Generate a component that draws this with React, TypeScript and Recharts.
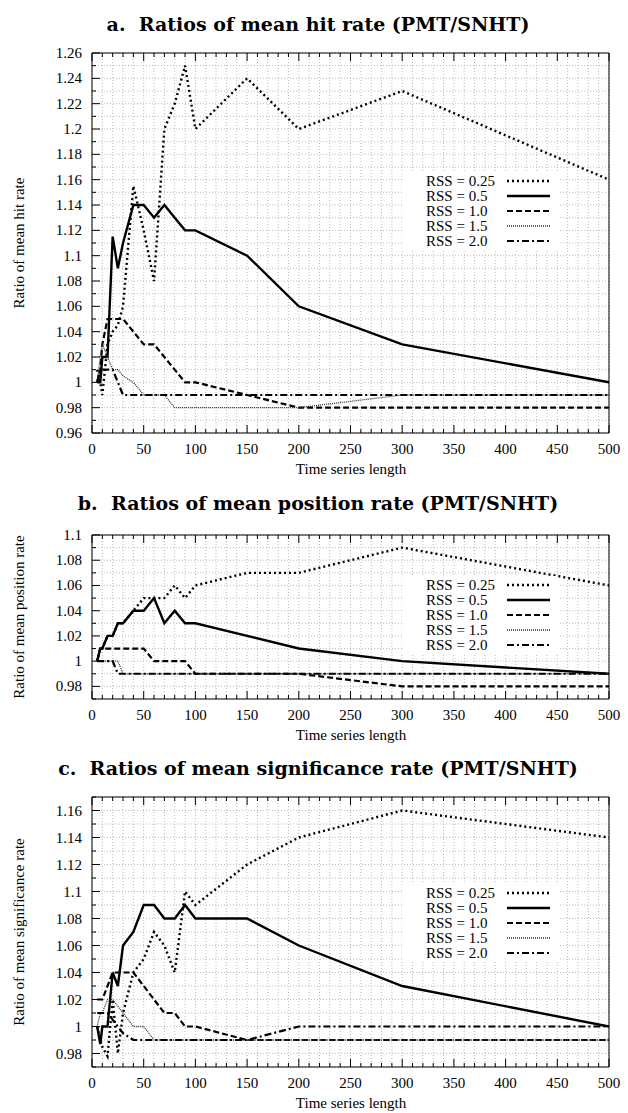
import React from 'react';
import { LineChart, Line, XAxis, YAxis, CartesianGrid } from 'recharts';

// time series lengths (shared by all panels)
const lengths = [5, 8, 10, 15, 20, 25, 30, 40, 50, 60, 70, 80, 90, 100, 150, 200, 300, 500];
const xLabels = [0, 50, 100, 150, 200, 250, 300, 350, 400, 450, 500];

// a. hit rate
const hit025 = [1.01, 1.0, 0.99, 1.03, 1.04, 1.045, 1.06, 1.155, 1.12, 1.08, 1.2, 1.22, 1.25, 1.2, 1.24, 1.2, 1.23, 1.16];
const hit05 = [1.0, 1.0, 1.02, 1.02, 1.115, 1.09, 1.11, 1.14, 1.14, 1.13, 1.14, 1.13, 1.12, 1.12, 1.1, 1.06, 1.03, 1.0];
const hit10 = [1.0, 1.01, 1.03, 1.05, 1.05, 1.05, 1.05, 1.04, 1.03, 1.03, 1.02, 1.01, 1.0, 1.0, 0.99, 0.98, 0.98, 0.98];
const hit15 = [1.0, 1.02, 1.03, 1.02, 1.01, 1.01, 1.005, 1.0, 0.99, 0.99, 0.99, 0.98, 0.98, 0.98, 0.98, 0.98, 0.99, 0.99];
const hit20 = [1.0, 1.01, 1.01, 1.01, 1.01, 1.0, 0.99, 0.99, 0.99, 0.99, 0.99, 0.99, 0.99, 0.99, 0.99, 0.99, 0.99, 0.99];
const hitTicks = [0.96, 0.98, 1, 1.02, 1.04, 1.06, 1.08, 1.1, 1.12, 1.14, 1.16, 1.18, 1.2, 1.22, 1.24, 1.26];

// b. position rate
const pos025 = [1.0, 1.01, 1.01, 1.02, 1.02, 1.03, 1.03, 1.04, 1.05, 1.05, 1.05, 1.06, 1.05, 1.06, 1.07, 1.07, 1.09, 1.06];
const pos05 = [1.0, 1.01, 1.01, 1.02, 1.02, 1.03, 1.03, 1.04, 1.04, 1.05, 1.03, 1.04, 1.03, 1.03, 1.02, 1.01, 1.0, 0.99];
const pos10 = [1.0, 1.01, 1.01, 1.01, 1.01, 1.01, 1.01, 1.01, 1.01, 1.0, 1.0, 1.0, 1.0, 0.99, 0.99, 0.99, 0.98, 0.98];
const pos15 = [1.0, 1.0, 1.0, 1.0, 1.0, 1.0, 0.99, 0.99, 0.99, 0.99, 0.99, 0.99, 0.99, 0.99, 0.99, 0.99, 0.99, 0.99];
const pos20 = [1.0, 1.0, 1.0, 1.0, 1.0, 0.99, 0.99, 0.99, 0.99, 0.99, 0.99, 0.99, 0.99, 0.99, 0.99, 0.99, 0.99, 0.99];
const posTicks = [0.98, 1, 1.02, 1.04, 1.06, 1.08, 1.1];

// c. significance rate
const sig025 = [1.0, 0.99, 0.985, 0.978, 1.02, 0.98, 1.01, 1.04, 1.05, 1.07, 1.06, 1.04, 1.1, 1.09, 1.12, 1.14, 1.16, 1.14];
const sig05 = [1.0, 0.987, 1.0, 1.0, 1.04, 1.03, 1.06, 1.07, 1.09, 1.09, 1.08, 1.08, 1.09, 1.08, 1.08, 1.06, 1.03, 1.0];
const sig10 = [1.02, 1.02, 1.02, 1.03, 1.04, 1.04, 1.04, 1.04, 1.03, 1.02, 1.01, 1.01, 1.0, 1.0, 0.99, 0.99, 0.99, 0.99];
const sig15 = [1.0, 1.01, 1.01, 1.02, 1.02, 1.015, 1.01, 1.0, 1.0, 0.99, 0.99, 0.99, 0.99, 0.99, 0.99, 0.99, 0.99, 0.99];
const sig20 = [1.01, 1.01, 1.01, 1.01, 1.005, 1.0, 0.995, 0.99, 0.99, 0.99, 0.99, 0.99, 0.99, 0.99, 0.99, 1.0, 1.0, 1.0];
const sigTicks = [0.98, 1, 1.02, 1.04, 1.06, 1.08, 1.1, 1.12, 1.14, 1.16];

const seriesStyle = [
  { key: 'r025', name: 'RSS = 0.25', dash: '2 3', width: 2.4, color: '#000' },
  { key: 'r05', name: 'RSS = 0.5', dash: undefined, width: 2.4, color: '#000' },
  { key: 'r10', name: 'RSS = 1.0', dash: '6 3', width: 2.2, color: '#000' },
  { key: 'r15', name: 'RSS = 1.5', dash: '1 1', width: 1.3, color: '#333' },
  { key: 'r20', name: 'RSS = 2.0', dash: '7 3 2 3', width: 2.2, color: '#000' },
];

const FONT = '"Liberation Serif", "Times New Roman", serif';
const xMinor = Array.from({ length: 51 }, (_, i) => i * 10);

const minorSteps = (lo: number, hi: number) =>
  Array.from({ length: Math.round((hi - lo) * 100) + 1 }, (_, i) => +(lo + i * 0.01).toFixed(2));

const fmt = (v: number) => String(+v.toFixed(2));

const BottomTick = (props: any) => {
  const { x, y, payload } = props;
  const major = payload.value % 50 === 0;
  return (
    <g>
      <line x1={x} y1={y} x2={x} y2={y - (major ? 8 : 4)} stroke="#000" />
      {major && (
        <text x={x} y={y + 21} textAnchor="middle" fontSize={15} fontFamily={FONT} fill="#000">
          {payload.value}
        </text>
      )}
    </g>
  );
};

const TopTick = (props: any) => {
  const { x, y, payload } = props;
  const major = payload.value % 50 === 0;
  return <line x1={x} y1={y} x2={x} y2={y + (major ? 8 : 4)} stroke="#000" />;
};

const makeLeftTick = (labels: number[]) => (props: any) => {
  const { x, y, payload } = props;
  const major = labels.some((l) => Math.abs(l - payload.value) < 1e-6);
  return (
    <g>
      <line x1={x} y1={y} x2={x + (major ? 8 : 4)} y2={y} stroke="#000" />
      {major && (
        <text x={x - 10} y={y + 5} textAnchor="end" fontSize={15} fontFamily={FONT} fill="#000">
          {fmt(payload.value)}
        </text>
      )}
    </g>
  );
};

const makeRightTick = (labels: number[]) => (props: any) => {
  const { x, y, payload } = props;
  const major = labels.some((l) => Math.abs(l - payload.value) < 1e-6);
  return <line x1={x} y1={y} x2={x - (major ? 8 : 4)} y2={y} stroke="#000" />;
};

type PanelProps = {
  title: string;
  titleY: number;
  yTitle: string;
  plotTop: number;
  plotBottom: number;
  domain: [number, number];
  labels: number[];
  values: number[][];
  legendTop: number;
};

const Panel = ({ title, titleY, yTitle, plotTop, plotBottom, domain, labels, values, legendTop }: PanelProps) => {
  const rows = lengths.map((x, i) => {
    const r: any = { x };
    seriesStyle.forEach((s, k) => (r[s.key] = values[k][i]));
    return r;
  });
  const yMinor = minorSteps(domain[0], domain[1]);
  const chartH = plotBottom - plotTop + 50;
  const axisLine = { stroke: '#000', strokeWidth: 1 };

  return (
    <>
      <div
        style={{
          position: 'absolute', left: 0, width: 636, top: titleY - 12, textAlign: 'center',
          fontFamily: '"DejaVu Serif", serif', fontWeight: 'bold', fontSize: 19, whiteSpace: 'pre',
        }}
      >
        {title}
      </div>
      <div
        style={{
          position: 'absolute', left: 19, top: (plotTop + plotBottom) / 2, fontFamily: FONT, fontSize: 15,
          transform: 'translate(-50%, -50%) rotate(-90deg)', whiteSpace: 'nowrap',
        }}
      >
        {yTitle}
      </div>
      <div style={{ position: 'absolute', left: 0, top: plotTop - 10 }}>
        <LineChart width={628} height={chartH} data={rows} margin={{ top: 9, right: 18, bottom: 0, left: 0 }}>
          <CartesianGrid
            horizontalValues={yMinor}
            verticalValues={xMinor}
            stroke="#aaa"
            strokeDasharray="1 2"
            strokeWidth={0.8}
          />
          <XAxis
            dataKey="x" type="number" domain={[0, 500]} ticks={xMinor} interval={0}
            height={40} tickSize={0} tickMargin={0} axisLine={axisLine} tickLine={false}
            tick={<BottomTick />} allowDataOverflow
          />
          <XAxis
            xAxisId="t" orientation="top" dataKey="x" type="number" domain={[0, 500]} ticks={xMinor} interval={0}
            height={1} tickSize={0} tickMargin={0} axisLine={axisLine} tickLine={false} tick={<TopTick />}
          />
          <YAxis
            type="number" domain={domain} ticks={yMinor} interval={0} width={92}
            tickSize={0} tickMargin={0} axisLine={axisLine} tickLine={false} tick={makeLeftTick(labels)}
            allowDataOverflow
          />
          <YAxis
            yAxisId="r" orientation="right" type="number" domain={domain} ticks={yMinor} interval={0} width={1}
            tickSize={0} tickMargin={0} axisLine={axisLine} tickLine={false} tick={makeRightTick(labels)}
          />
          {seriesStyle.map((s) => (
            <Line
              key={s.key}
              type="linear"
              dataKey={s.key}
              name={s.name}
              stroke={s.color}
              strokeWidth={s.width}
              strokeDasharray={s.dash}
              dot={false}
              isAnimationActive={false}
            />
          ))}
        </LineChart>
      </div>
      <div
        style={{
          position: 'absolute', left: 351, top: plotBottom + 28, transform: 'translateX(-50%)',
          fontFamily: FONT, fontSize: 15, whiteSpace: 'nowrap',
        }}
      >
        Time series length
      </div>
      <div
        style={{
          position: 'absolute', left: 402, top: legendTop, width: 156, height: 78, background: '#fff',
          fontFamily: FONT, fontSize: 15,
        }}
      >
        {seriesStyle.map((s, i) => (
          <div key={s.key} style={{ position: 'absolute', left: 24, top: 1 + i * 15, height: 16, lineHeight: '16px' }}>
            {s.name}
          </div>
        ))}
        <svg width={156} height={78} style={{ position: 'absolute', left: 0, top: 0 }}>
          {seriesStyle.map((s, i) => (
            <line
              key={s.key}
              x1={105} x2={148} y1={9 + i * 15} y2={9 + i * 15}
              stroke={s.color} strokeWidth={s.width} strokeDasharray={s.dash}
            />
          ))}
        </svg>
      </div>
    </>
  );
};

export default function App() {
  return (
    <div style={{ position: 'absolute', left: 0, top: 0, width: 628, height: 1113, background: '#fff' }}>
      <Panel
        title="a.  Ratios of mean hit rate (PMT/SNHT)"
        titleY={25}
        yTitle="Ratio of mean hit rate"
        plotTop={53}
        plotBottom={433}
        domain={[0.96, 1.26]}
        labels={hitTicks}
        values={[hit025, hit05, hit10, hit15, hit20]}
        legendTop={172}
      />
      <Panel
        title="b.  Ratios of mean position rate (PMT/SNHT)"
        titleY={504}
        yTitle="Ratio of mean position rate"
        plotTop={535}
        plotBottom={699}
        domain={[0.97, 1.1]}
        labels={posTicks}
        values={[pos025, pos05, pos10, pos15, pos20]}
        legendTop={576}
      />
      <Panel
        title="c.  Ratios of mean significance rate (PMT/SNHT)"
        titleY={769}
        yTitle="Ratio of mean significance rate"
        plotTop={797}
        plotBottom={1067}
        domain={[0.97, 1.17]}
        labels={sigTicks}
        values={[sig025, sig05, sig10, sig15, sig20]}
        legendTop={884}
      />
    </div>
  );
}
